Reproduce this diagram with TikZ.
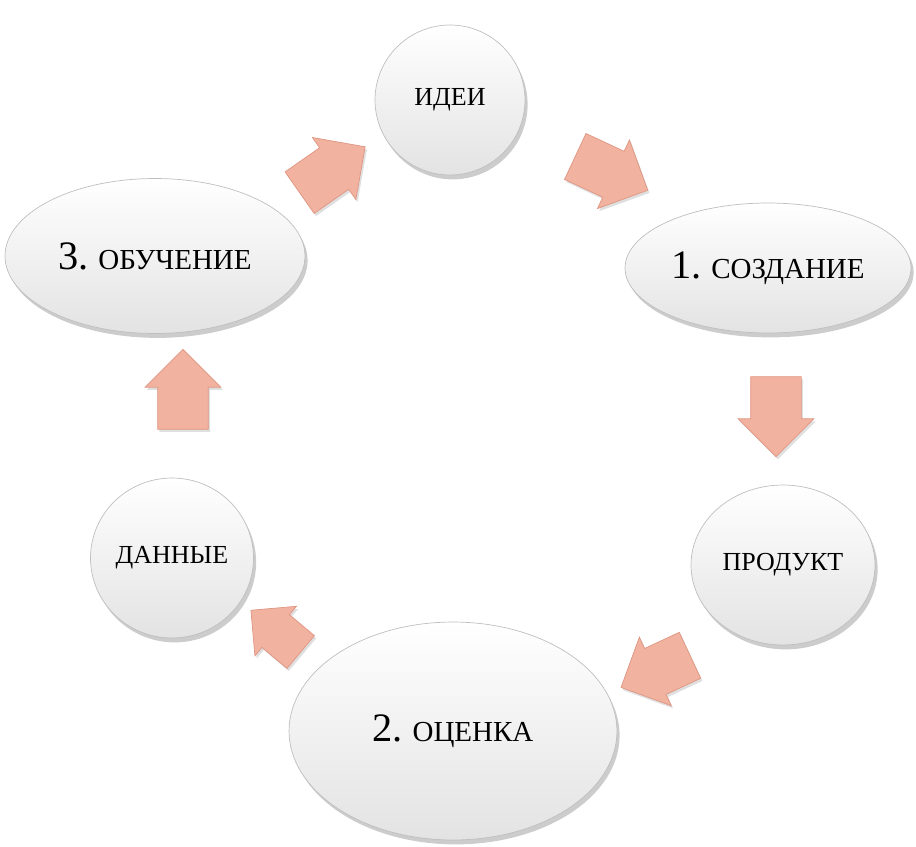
\documentclass[tikz,border=0pt]{standalone}
\usepackage{fontspec}
\setmainfont{Liberation Serif}
\usetikzlibrary{shapes.geometric,shapes.arrows,shadows}
\definecolor{salmon}{RGB}{242,178,160}
\definecolor{salmonedge}{RGB}{222,150,130}
\newcommand{\stepnum}[1]{{\fontsize{23}{26}\selectfont #1}}

\begin{document}
\begin{tikzpicture}[x=0.02cm,y=-0.02cm,
		phase node/.style={ellipse,inner sep=0pt,draw=gray!50,top color=white,bottom color=gray!22,
			drop shadow={shadow xshift=1.5pt,shadow yshift=-2.5pt,opacity=0.4,fill=gray},
			font=\fontsize{16.5}{19}\selectfont},
		item node/.style={phase node,font=\fontsize{14.8}{17}\selectfont},
		block arrow/.style={single arrow,draw=salmonedge,fill=salmon,thin,inner sep=0.5cm,
			single arrow head extend=0.25cm,minimum height=1.6cm,
			drop shadow={shadow xshift=1pt,shadow yshift=-1.5pt,opacity=0.25,fill=gray}}]
		\useasboundingbox (0,0) rectangle (916,846);
		\node[item node,minimum width=3cm,minimum height=3cm] (ideas) at (450,100) {ИДЕИ};
		\node[phase node,minimum width=5.72cm,minimum height=2.6cm] (create) at (768,268) {\stepnum{1.} СОЗДАНИЕ};
		\node[item node,minimum width=3.68cm,minimum height=3.2cm] (product) at (783,565) {ПРОДУКТ};
		\node[phase node,minimum width=6.56cm,minimum height=4.36cm] (eval) at (453,731) {\stepnum{2.} ОЦЕНКА};
		\node[item node,minimum width=3.26cm,minimum height=3.2cm] (data) at (172,558) {ДАННЫЕ};
		\node[phase node,minimum width=6cm,minimum height=3.1cm] (learn) at (155,256) {\stepnum{3.} ОБУЧЕНИЕ};
		
		\node[block arrow,rotate=-25] (a1) at (600,168) {};
		\node[block arrow,rotate=-90] (a2) at (776,404) {};
		\node[block arrow,rotate=205,minimum height=1.45cm] (a3) at (667,666) {};
		\node[block arrow,rotate=140,minimum height=1.3cm,inner sep=0.42cm,single arrow head extend=0.22cm] (a4) at (284,638) {};
		\node[block arrow,rotate=90] (a5) at (183,402) {};
		\node[block arrow,rotate=35] (a6) at (322,177) {};
		\end{tikzpicture}
\end{document}
